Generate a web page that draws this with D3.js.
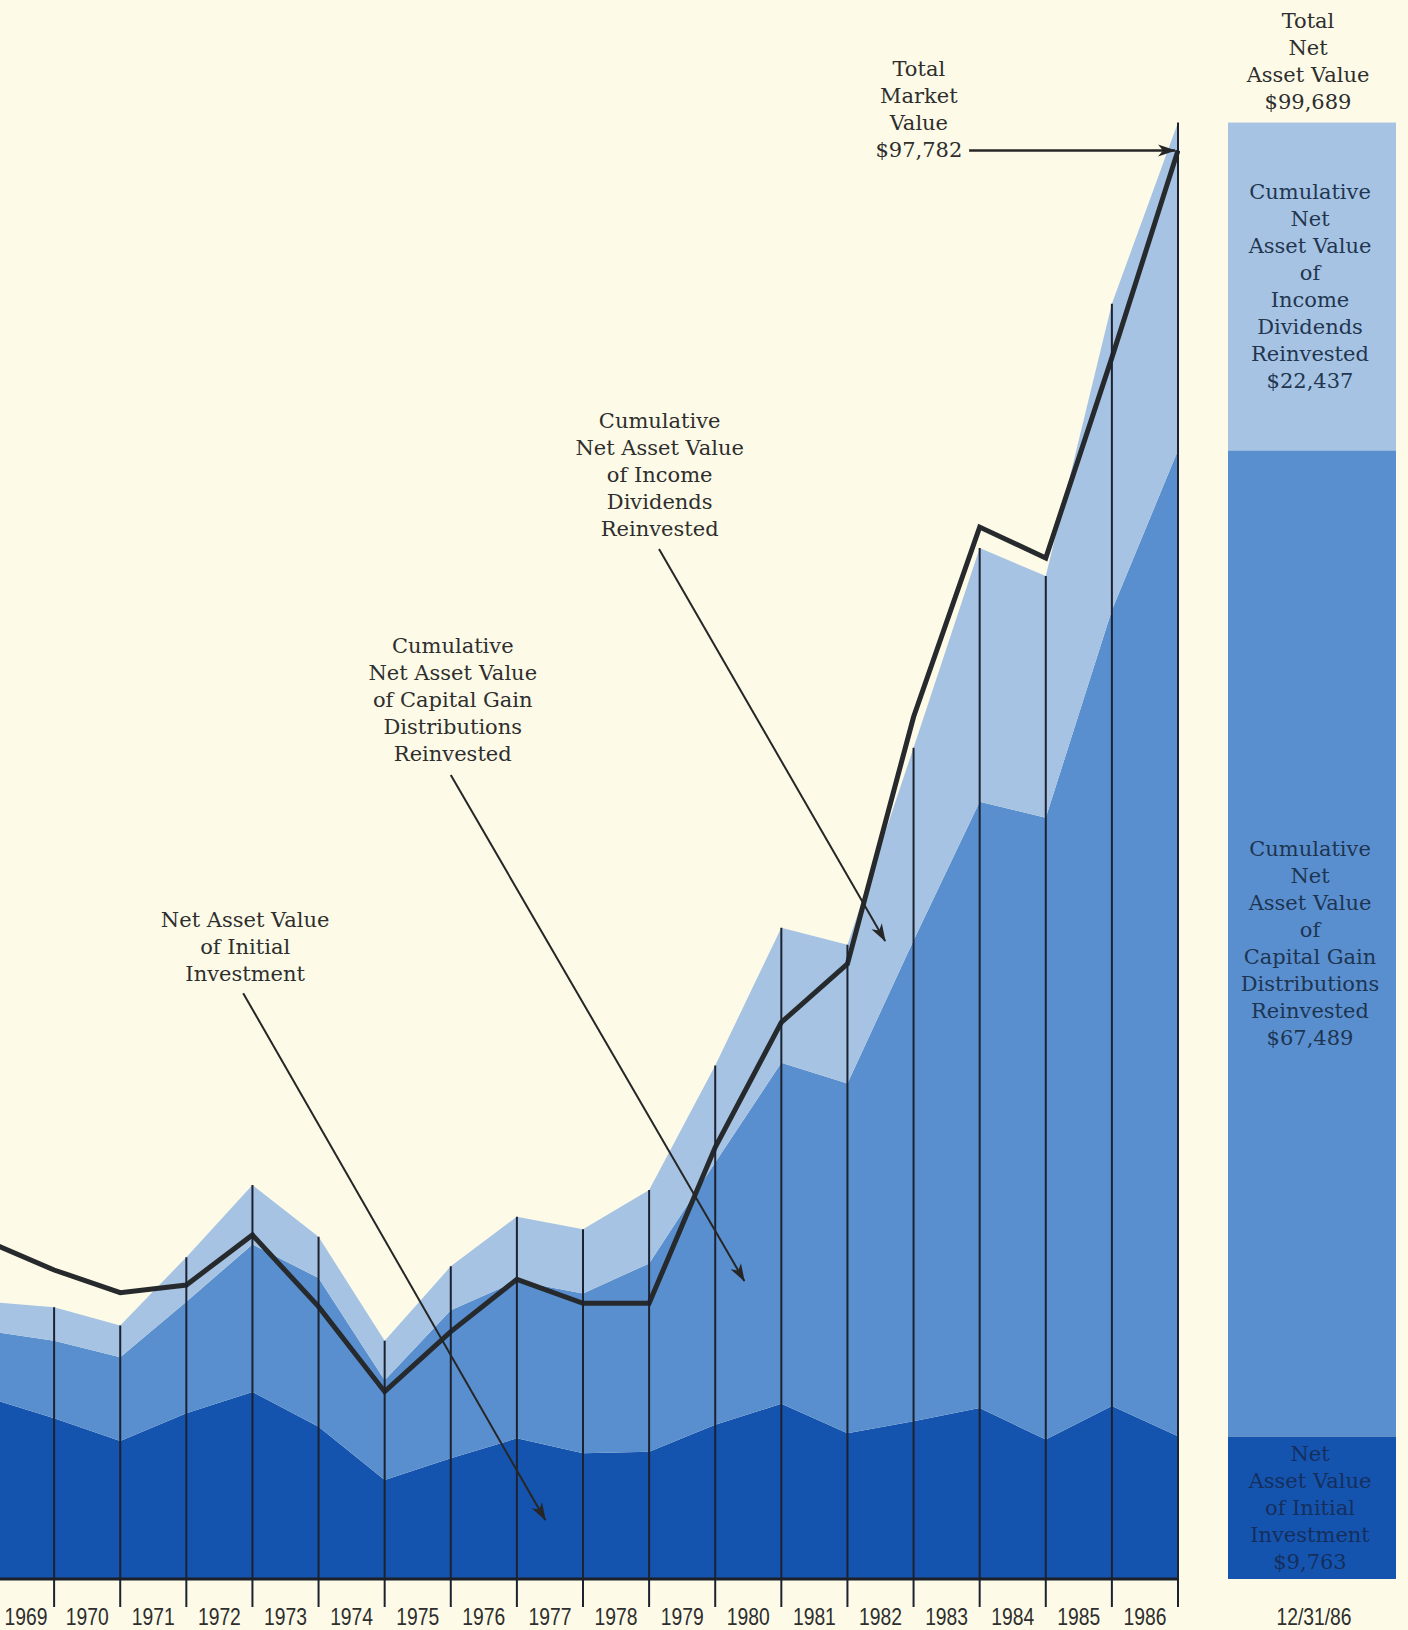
<!DOCTYPE html>
<html>
<head>
<meta charset="utf-8">
<script src="https://cdn.jsdelivr.net/npm/d3@7"></script>
<style>
  html, body { margin: 0; padding: 0; background: #fdfbe7; }
  svg { display: block; }
</style>
</head>
<body>
<div id="chart"></div>
<script>
// year-end points, 1968 is only the left edge of the chart
const years = [1968, 1969, 1970, 1971, 1972, 1973, 1974, 1975, 1976, 1977, 1978, 1979, 1980, 1981, 1982, 1983, 1984, 1985, 1986];
const yearLabels = ["1969", "1970", "1971", "1972", "1973", "1974", "1975", "1976", "1977", "1978", "1979", "1980", "1981", "1982", "1983", "1984", "1985", "1986"];

const initialInvestment = [12400, 11000, 9450, 11340, 12800, 10420, 6780, 8260, 9630, 8600, 8710, 10550, 12000, 9980, 10800, 11700, 9540, 11840, 9763];
const capitalGains      = [4580, 5310, 5720, 7640, 10100, 10180, 6820, 10140, 10770, 10950, 12890, 17950, 23330, 23940, 32900, 41500, 42560, 54460, 67489];
const incomeDividends   = [2000, 2290, 2180, 3050, 4070, 2820, 2700, 3000, 4400, 4390, 5020, 6650, 9250, 9500, 13200, 17370, 16550, 20990, 22437];
const marketValue       = [23100, 21150, 19600, 20120, 23550, 18640, 12820, 16930, 20510, 18870, 18870, 29550, 38100, 42100, 59000, 72000, 69880, 83600, 97782];

const layerKeys = ["initial", "capital", "dividends"];
const layerColors = ["#1554ae", "#5a8fcf", "#a6c3e4"];

const width = 1408, height = 1630;
const baseY = 1579;

const x = d3.scaleLinear().domain([1968, 1986]).range([-12, 1178]);
const y = d3.scaleLinear().domain([0, 100000]).range([baseY, 118]);

const rows = years.map((yr, i) => ({
    year: yr,
    initial: initialInvestment[i],
    capital: capitalGains[i],
    dividends: incomeDividends[i]
}));
const series = d3.stack().keys(layerKeys)(rows);
const last = rows.length - 1;
const totalNav = series[2][last][1];

const fmt = d3.format("$,");
const serif = "'DejaVu Serif', 'Liberation Serif', serif";
const sans = "'Liberation Sans', Arial, sans-serif";

const svg = d3.select("#chart").append("svg")
    .attr("width", width)
    .attr("height", height);

svg.append("rect").attr("width", width).attr("height", height).attr("fill", "#fdfbe7");

const defs = svg.append("defs");
defs.append("clipPath").attr("id", "plot")
  .append("rect").attr("x", 0).attr("y", 0).attr("width", x(1986) + 2).attr("height", baseY);
defs.append("marker")
    .attr("id", "arrow")
    .attr("viewBox", "-19 -7 21 14")
    .attr("refX", 0).attr("refY", 0)
    .attr("markerWidth", 21).attr("markerHeight", 14)
    .attr("markerUnits", "userSpaceOnUse")
    .attr("orient", "auto")
  .append("path")
    .attr("d", "M1,0 L-17,-6 L-12,0 L-17,6 Z")
    .attr("fill", "#262626");

const plot = svg.append("g").attr("clip-path", "url(#plot)");

// stacked areas
const area = d3.area()
    .x(d => x(d.data.year))
    .y0(d => y(d[0]))
    .y1(d => y(d[1]));

plot.selectAll(".layer")
    .data(series)
    .enter().append("path")
    .attr("class", "layer")
    .attr("fill", (d, i) => layerColors[i])
    .attr("d", area);

// year-end rules, from the tick below the axis up to the total value
svg.selectAll(".rule")
    .data(rows.slice(1))
    .enter().append("line")
    .attr("class", "rule")
    .attr("x1", d => x(d.year)).attr("x2", d => x(d.year))
    .attr("y1", baseY + 28)
    .attr("y2", (d, i) => y(series[2][i + 1][1]))
    .attr("stroke", "#1c2230")
    .attr("stroke-width", 2);

// axis line
svg.append("line")
    .attr("x1", 0).attr("x2", x(1986) + 1)
    .attr("y1", baseY).attr("y2", baseY)
    .attr("stroke", "#1c2028")
    .attr("stroke-width", 3);

// market value line
const line = d3.line()
    .x((d, i) => x(years[i]))
    .y(d => y(d));

plot.append("path")
    .datum(marketValue)
    .attr("fill", "none")
    .attr("stroke", "#262a2c")
    .attr("stroke-width", 5)
    .attr("stroke-linejoin", "miter")
    .attr("d", line);

// year labels, squeezed horizontally for the condensed look
function narrowLabel(cx, s) {
    svg.append("g")
        .attr("transform", `translate(${cx},1625) scale(0.84,1)`)
      .append("text")
        .attr("text-anchor", "middle")
        .style("font-family", sans)
        .style("font-size", "23px")
        .style("fill", "#2e2e2e")
        .text(s);
}
yearLabels.forEach(d => narrowLabel(Math.max(x(+d - 0.5), 26), d));

// helper for stacked lines of centred text
function textBlock(g, lines, cx, firstBaseline, color, size) {
    const t = g.append("text")
        .attr("text-anchor", "middle")
        .style("font-family", serif)
        .style("font-size", (size || 21) + "px")
        .style("fill", color);
    lines.forEach((s, i) => {
        t.append("tspan").attr("x", cx).attr("y", firstBaseline + i * 27).text(s);
    });
    return t;
}

// annotations, placed in data space
const notes = [
    { lines: ["Net Asset Value", "of Initial", "Investment"], at: [1971.89, 45100], from: [1971.86, 40100], to: [1976.43, 4040] },
    { lines: ["Cumulative", "Net Asset Value", "of Capital Gain", "Distributions", "Reinvested"], at: [1975.03, 63860], from: [1975.0, 55030], to: [1979.44, 20400] },
    { lines: ["Cumulative", "Net Asset Value", "of Income", "Dividends", "Reinvested"], at: [1978.16, 79260], from: [1978.15, 70500], to: [1981.57, 43670] }
];

const ann = svg.append("g");
notes.forEach(n => {
    textBlock(ann, n.lines, x(n.at[0]), y(n.at[1]) + 7, "#2e2e2e");
    ann.append("line")
        .attr("x1", x(n.from[0])).attr("y1", y(n.from[1]))
        .attr("x2", x(n.to[0])).attr("y2", y(n.to[1]))
        .attr("stroke", "#262626")
        .attr("stroke-width", 2)
        .attr("marker-end", "url(#arrow)");
});

// total market value callout
const mvEnd = marketValue[last];
textBlock(ann, ["Total", "Market", "Value", fmt(mvEnd)], x(1982.08), y(mvEnd) - 74, "#2e2e2e");
ann.append("line")
    .attr("x1", x(1982.84)).attr("y1", y(mvEnd))
    .attr("x2", x(1986) - 3).attr("y2", y(mvEnd))
    .attr("stroke", "#262626")
    .attr("stroke-width", 2.5)
    .attr("marker-end", "url(#arrow)");

// 12/31/86 breakdown bar
const barX0 = 1228, barX1 = 1396, barCx = (barX0 + barX1) / 2;
const bar = svg.append("g");
const finals = series.map(s => ({ y0: s[last][0], y1: s[last][1] }));

bar.selectAll("rect")
    .data(finals)
    .enter().append("rect")
    .attr("x", barX0)
    .attr("width", barX1 - barX0)
    .attr("y", d => y(d.y1))
    .attr("height", d => y(d.y0) - y(d.y1))
    .attr("fill", (d, i) => layerColors[i]);

const barLines = [
    ["Net", "Asset Value", "of  Initial", "Investment", fmt(initialInvestment[last])],
    ["Cumulative", "Net", "Asset Value", "of", "Capital Gain", "Distributions", "Reinvested", fmt(capitalGains[last])],
    ["Cumulative", "Net", "Asset Value", "of", "Income", "Dividends", "Reinvested", fmt(incomeDividends[last])]
];
const barTextColors = ["#142f5e", "#1d3552", "#22364f"];

finals.forEach((d, i) => {
    const mid = (y(d.y0) + y(d.y1)) / 2;
    const n = barLines[i].length;
    const first = mid - (n - 1) * 27 / 2 + 7;
    textBlock(bar, barLines[i], barCx - 2, first, barTextColors[i]);
});

textBlock(bar, ["Total", "Net", "Asset Value", fmt(totalNav)], barCx - 4, y(totalNav) - 14 - 3 * 27, "#2e2e2e");

narrowLabel(barCx + 2, "12/31/86");
</script>
</body>
</html>
